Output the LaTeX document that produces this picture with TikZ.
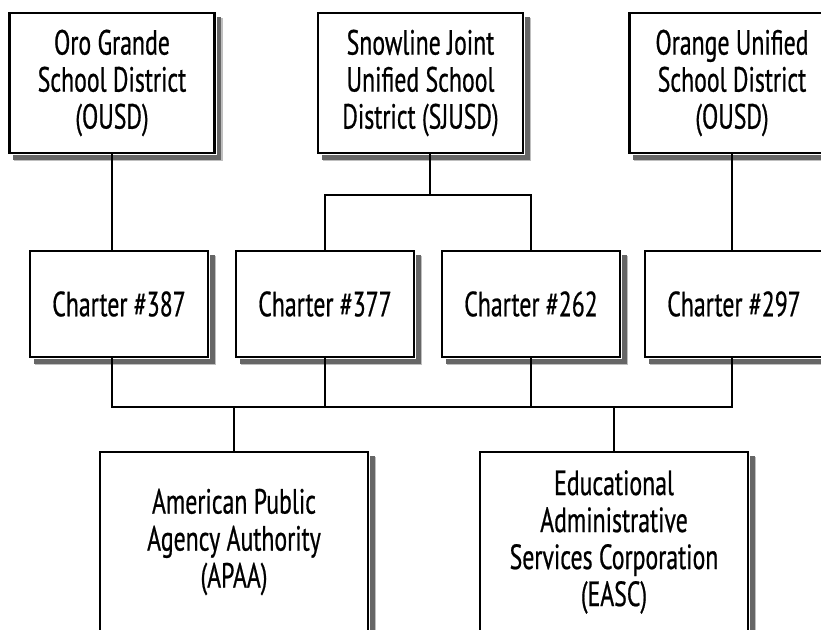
\documentclass[tikz,border=0pt]{standalone}
\usepackage{fontspec}
\setmainfont{PT Sans}[FakeStretch=0.68,FakeBold=0.6]
\usetikzlibrary{calc,positioning}

\tikzset{
  orgbox/.style={draw,line width=2.2pt,fill=white,align=center,
    font=\fontsize{35}{37}\selectfont},
  link/.style={line width=2.2pt},
  shade1/.style={fill=black!25},
  shade2/.style={fill=black!60}
}

\begin{document}
\begin{tikzpicture}[x=1pt,y=-1pt]
  \useasboundingbox (0,0) rectangle (821,629);
       \node (d_0) [orgbox,minimum width=205pt,minimum height=140pt] at (112,83)  {Oro Grande\\School District\\(OUSD)};
       \node (d_1) [orgbox,minimum width=205pt,minimum height=140pt] at (420.5,83) {Snowline Joint\\Unified School\\District (SJUSD)};
       \node (d_2) [orgbox,minimum width=205pt,minimum height=140pt] at (732,83)  {Orange Unified\\School District\\(OUSD)};
       \node (c_0) [orgbox,minimum width=178pt,minimum height=106pt] at (119,304) {Charter \#387};
       \node (c_1) [orgbox,minimum width=178pt,minimum height=106pt] at (325,304) {Charter \#377};
       \node (c_2) [orgbox,minimum width=178pt,minimum height=106pt] at (531,304) {Charter \#262};
       \node (c_3) [orgbox,minimum width=178pt,minimum height=106pt] at (734,304) {Charter \#297};
       \node (a_0) [orgbox,minimum width=268pt,minimum height=180pt] at (234,542) {American Public\\Agency Authority\\(APAA)};
       \node (a_1) [orgbox,minimum width=268pt,minimum height=180pt] at (614,542) {Educational\\Administrative\\Services Corporation\\(EASC)};
        % shadows along the right and lower edges
        \foreach \n in {d_0,d_1,d_2,c_0,c_1,c_2,c_3,a_0,a_1} {
          \fill[shade1] ($(\n.north east)+(1.1,6)$) rectangle ($(\n.south east)+(7,7)$);
          \fill[shade1] ($(\n.south west)+(6,1.1)$) rectangle ($(\n.south east)+(7,7)$);
          \fill[shade2] ($(\n.north east)+(1.1,5)$) rectangle ($(\n.south east)+(5.5,5.5)$);
          \fill[shade2] ($(\n.south west)+(5,1.1)$) rectangle ($(\n.south east)+(5.5,5.5)$);
        }
       \coordinate (j_1) at (430,195);
       \coordinate (b_0) at (732,407);
        % districts to charters
        \draw[link] (d_0.south) -- (d_0.south |- c_0.north);
        \draw[link] (j_1 |- d_1.south) -- (j_1);
        \draw[link] (c_1.north) |- (j_1) -| (c_2.north);
        \draw[link] (d_2.south) -- (d_2.south |- c_3.north);
        % charters to the bus
        \draw[link] (d_0.south |- c_0.south) |- (b_0) -- (b_0 |- c_3.south);
        \draw[link] (c_1.south) -- (c_1.south |- b_0);
        \draw[link] (c_2.south) -- (c_2.south |- b_0);
        \draw[link] (a_0.north) -- (a_0.north |- b_0);
        \draw[link] (a_1.north) -- (a_1.north |- b_0);
\end{tikzpicture}
\end{document}
